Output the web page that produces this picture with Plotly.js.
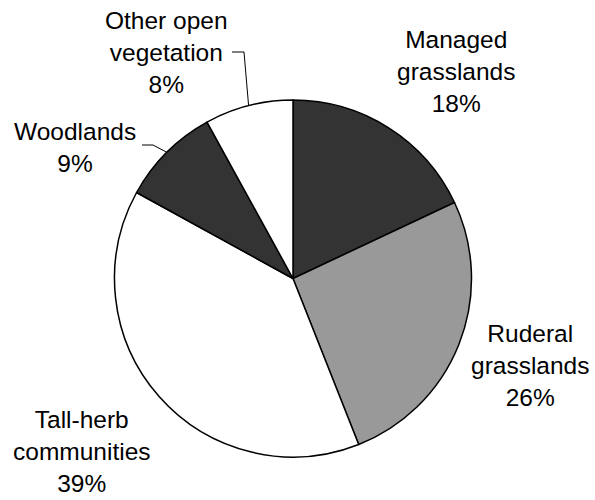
<!DOCTYPE html>
<html>
<head>
<meta charset="utf-8">
<script src="https://cdn.plot.ly/plotly-3.0.1.min.js"></script>
<style>html,body{margin:0;padding:0;background:#fff;}#chart{width:595px;height:500px;}</style>
</head>
<body>
<div id="chart"></div>
<script>
var categories = ["Managed<br>grasslands", "Ruderal<br>grasslands", "Tall-herb<br>communities", "Woodlands", "Other open<br>vegetation"];
var values = [18, 26, 39, 9, 8];
var colors = ["#333333", "#999999", "#ffffff", "#333333", "#ffffff"];

var W = 595, H = 500;
var cx = 293, cy = 278.5, R = 178.5;
function px(x){ return x / W; }
function py(y){ return 1 - y / H; }

// label anchor centres (pixel) for each category
var labelPos = [[456, 71], [530, 365], [82, 451], [75, 147], [166.5, 53]];
var total = values.reduce(function(a,b){return a+b;}, 0);

var annotations = values.map(function(v, i){
  return {
    x: px(labelPos[i][0]), y: py(labelPos[i][1]), xref: 'paper', yref: 'paper',
    text: categories[i] + '<br>' + Math.round(v / total * 100) + '%',
    showarrow: false, xanchor: 'center', yanchor: 'middle', align: 'center',
    font: {family: 'Liberation Sans, Arial, sans-serif', size: 24.5, color: '#000'}
  };
});

// leader lines for the two small slices, ending at the slice midpoints on the rim
function rimPoint(i){
  var cum = 0; for (var k = 0; k < i; k++) cum += values[k];
  var frac = (cum + values[i] / 2) / total;
  var a = frac * 2 * Math.PI;
  return [cx + R * Math.sin(a), cy - R * Math.cos(a)];
}
var shapes = [];
var wp = rimPoint(3);
shapes.push({type: 'path', xref: 'paper', yref: 'paper',
  path: 'M' + px(142) + ',' + py(145) + ' L' + px(153) + ',' + py(145) + ' L' + px(wp[0]) + ',' + py(wp[1]),
  line: {color: '#000', width: 1}});
var op = rimPoint(4);
shapes.push({type: 'path', xref: 'paper', yref: 'paper',
  path: 'M' + px(232) + ',' + py(52) + ' L' + px(244) + ',' + py(52) + ' L' + px(op[0]) + ',' + py(op[1]),
  line: {color: '#000', width: 1}});

var trace = {
  type: 'pie',
  labels: categories,
  values: values,
  sort: false,
  direction: 'clockwise',
  rotation: 0,
  textinfo: 'none',
  hoverinfo: 'label+percent',
  marker: {colors: colors, line: {color: '#000', width: 1.5}},
  domain: {x: [px(cx - R), px(cx + R)], y: [py(cy + R), py(cy - R)]},
  showlegend: false
};

var layout = {
  width: W, height: H,
  margin: {l: 0, r: 0, t: 0, b: 0},
  paper_bgcolor: '#fff',
  showlegend: false,
  annotations: annotations,
  shapes: shapes
};

Plotly.newPlot('chart', [trace], layout, {displayModeBar: false, staticPlot: true});
</script>
</body>
</html>
